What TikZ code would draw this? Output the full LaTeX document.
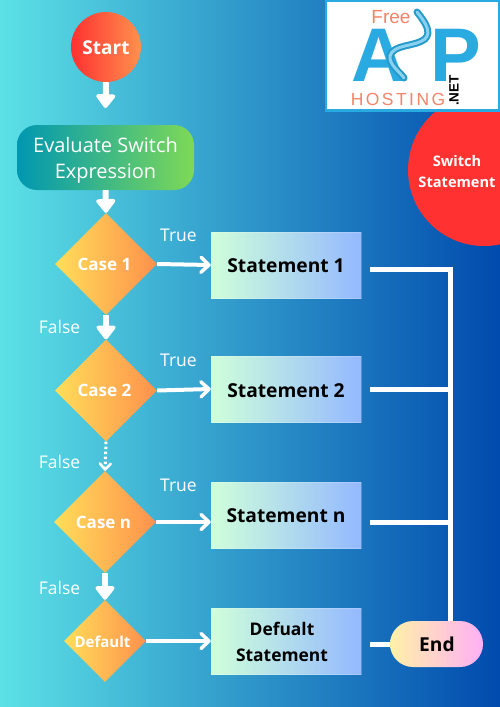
\documentclass[tikz,border=0pt]{standalone}
\usepackage{fontspec}
\setmainfont{Open Sans}
\newfontfamily\logofont{Liberation Sans}
\usetikzlibrary{shapes.geometric,arrows.meta}
\definecolor{bgL}{HTML}{5CE1E6}
\definecolor{bgR}{HTML}{004AAD}
\definecolor{diaL}{HTML}{FFDE59}
\definecolor{diaR}{HTML}{FF914D}
\definecolor{redA}{HTML}{FF3131}
\definecolor{evalL}{HTML}{0097B2}
\definecolor{evalR}{HTML}{7ED957}
\definecolor{stL}{HTML}{CFFFDA}
\definecolor{stR}{HTML}{94B9FF}
\definecolor{endL}{HTML}{FFF1A8}
\definecolor{endR}{HTML}{FFB0F5}
\definecolor{logoblue}{HTML}{29ABE2}
\definecolor{logoorange}{HTML}{F4846A}
\tikzset{
  decision/.style={diamond,aspect=1,inner sep=0pt,left color=diaL,right color=diaR,shading angle=90,middle color=diaL!50!diaR},
  stmtbox/.style={rectangle,minimum width=150pt,minimum height=66pt,inner sep=0pt,left color=stL,right color=stR,draw=white,draw opacity=0.2,line width=0.5pt},
  blockarrow/.style={white,line width=6pt,-{Triangle[width=22pt,length=15pt,round]}},
  openarrow/.style={white,line width=4pt,-{Straight Barb[length=8pt,width=15pt,line width=3.5pt,round]}},
  dotarrow/.style={white,line width=3pt,dash pattern=on 2.5pt off 2.5pt,-{Straight Barb[length=6pt,width=11pt,line width=2.5pt,round]}},
  busline/.style={white,line width=5pt},
  boldtxt/.style={font=\fontsize{19.2}{23}\selectfont\bfseries,text=black,inner sep=0pt},
  casetxt/.style={font=\fontsize{17}{20}\selectfont\bfseries,text=white,inner sep=0pt},
  lighttxt/.style={font=\fontsize{17.5}{20}\selectfont,text=white,inner sep=0pt},
}
\begin{document}
\begin{tikzpicture}[x=1pt,y=-1pt]
\useasboundingbox (0,0) rectangle (500,707);
\fill[left color=bgL,right color=bgR] (0,0) rectangle (500,707);
% red circle, clipped by the page
\begin{scope}
\clip (0,0) rectangle (500,707);
\fill[redA] (484,170) circle[radius=76];
\end{scope}
\node[font=\fontsize{14.6}{21}\selectfont\bfseries,text=white,align=center,inner sep=0pt] (title) at (457,171.5) {Switch\\Statement};
% logo
\node[rectangle,draw=logoblue,fill=white,line width=2.5pt,minimum width=173pt,minimum height=110pt,inner sep=0pt] (logo) at (412.5,55.5) {};
\node[font=\logofont\fontsize{76}{76}\selectfont\bfseries,text=logoblue,inner sep=0pt] (logoA) at (378.5,55) {A};
\node[font=\logofont\fontsize{76}{76}\selectfont\bfseries,text=logoblue,inner sep=0pt] (logoP) at (456,55) {P};
\draw[logoblue!90!black,line width=7pt,line cap=round] (417,12) .. controls (425,22) and (432,32) .. (425,39) .. controls (415,47) and (393,44) .. (390,56) .. controls (389,65) and (400,72) .. (404,78);
\draw[logoblue!55,line width=3pt,line cap=round] (417,12) .. controls (425,22) and (432,32) .. (425,39) .. controls (415,47) and (393,44) .. (390,56) .. controls (389,65) and (400,72) .. (404,78);
\node[font=\logofont\fontsize{19}{19}\selectfont,text=logoorange,inner sep=0pt] (logoFree) at (391,17) {Free};
\node[font=\logofont\fontsize{17.5}{18}\addfontfeature{LetterSpace=14}\selectfont,text=logoorange,inner sep=0pt] (logoHost) at (398,99) {HOSTING};
\node[font=\logofont\fontsize{13.5}{14}\selectfont\bfseries,text=black,rotate=90,inner sep=0pt] (logoNet) at (454,90.5) {.NET};
% flow nodes
\node[circle,minimum size=70pt,inner sep=0pt,left color=redA,right color=diaR] (start) at (106,47) {};
\node[font=\fontsize{19}{22}\selectfont\bfseries,text=white,inner sep=0pt] (startT) at (106,48) {Start};
\node[rectangle,rounded corners=20pt,minimum width=177pt,minimum height=65pt,inner sep=0pt,left color=evalL,right color=evalR] (eval) at (105.5,157.5) {};
\node[font=\fontsize{20}{26}\selectfont,text=white,align=center,inner sep=0pt] (evalT) at (105.5,160) {Evaluate Switch\\Expression};
\node[decision,minimum size=102pt] (c1) at (106,264) {};
\node[decision,minimum size=102pt] (c2) at (106,390.5) {};
\node[decision,minimum size=102pt] (cn) at (105,522) {};
\node[decision,minimum size=82pt] (cd) at (105,641) {};
\node[casetxt] (c1T) at (104.5,264.5) {Case 1};
\node[casetxt] (c2T) at (104.5,390.5) {Case 2};
\node[casetxt] (cnT) at (103.5,522.5) {Case n};
\node[casetxt,font=\fontsize{15}{18}\selectfont\bfseries] (cdT) at (102.5,641.5) {Default};
\node[stmtbox] (s1) at (286,265) {};
\node[stmtbox] (s2) at (286,389) {};
\node[stmtbox] (sn) at (286,515) {};
\node[stmtbox] (sd) at (286,641) {};
\node[boldtxt] (s1T) at (286,265.5) {Statement 1};
\node[boldtxt] (s2T) at (286,390.5) {Statement 2};
\node[boldtxt] (snT) at (286,515.5) {Statement n};
\node[boldtxt,font=\fontsize{17.4}{25.5}\selectfont\bfseries,align=center] (sdT) at (282,642) {Defualt\\Statement};
\node[rectangle,rounded corners=23pt,minimum width=93pt,minimum height=46pt,inner sep=0pt,left color=endL,right color=endR] (end) at (436.5,644) {};
\node[boldtxt] (endT) at (437,644.5) {End};
% labels
\node[lighttxt] (t1) at (178.5,235.5) {True};
\node[lighttxt] (t2) at (178.5,360) {True};
\node[lighttxt] (t3) at (178.5,485) {True};
\node[lighttxt] (f1) at (59.5,326.5) {False};
\node[lighttxt] (f2) at (59.5,461.5) {False};
\node[lighttxt] (f3) at (59.5,587.5) {False};
% connectors
\coordinate (b1) at (370,269);
\coordinate (b2) at (370,389);
\coordinate (b3) at (370,522);
\coordinate (b4) at (370,644);
\coordinate (j1) at (450,269);
\coordinate (j2) at (450,389);
\coordinate (j3) at (450,522);
\coordinate (j4) at (450,621);
\draw[blockarrow] (start.south) -- (eval.north |- 0,108);
\draw[blockarrow] (eval.south) -- (c1.north);
\draw[blockarrow] (c1.south) -- (c2.north);
\draw[dotarrow] (c2.south) -- (cn.north);
\draw[blockarrow] (cn.south) -- (cd.north);
\draw[openarrow] (c1.east) -- (s1.west);
\draw[openarrow] (c2.east) -- (s2.west);
\draw[openarrow] (cn.east) -- (sn.west |- cn.east);
\draw[openarrow] (cd.east) -- (sd.west);
\draw[busline] (b1) -- ([xshift=2.5pt]j1);
\draw[busline] (b2) -- (j2);
\draw[busline] (b3) -- (j3);
\draw[busline] (b4) -- (end.west |- b4);
\draw[busline] (j1) -- (j4);
\end{tikzpicture}
\end{document}
